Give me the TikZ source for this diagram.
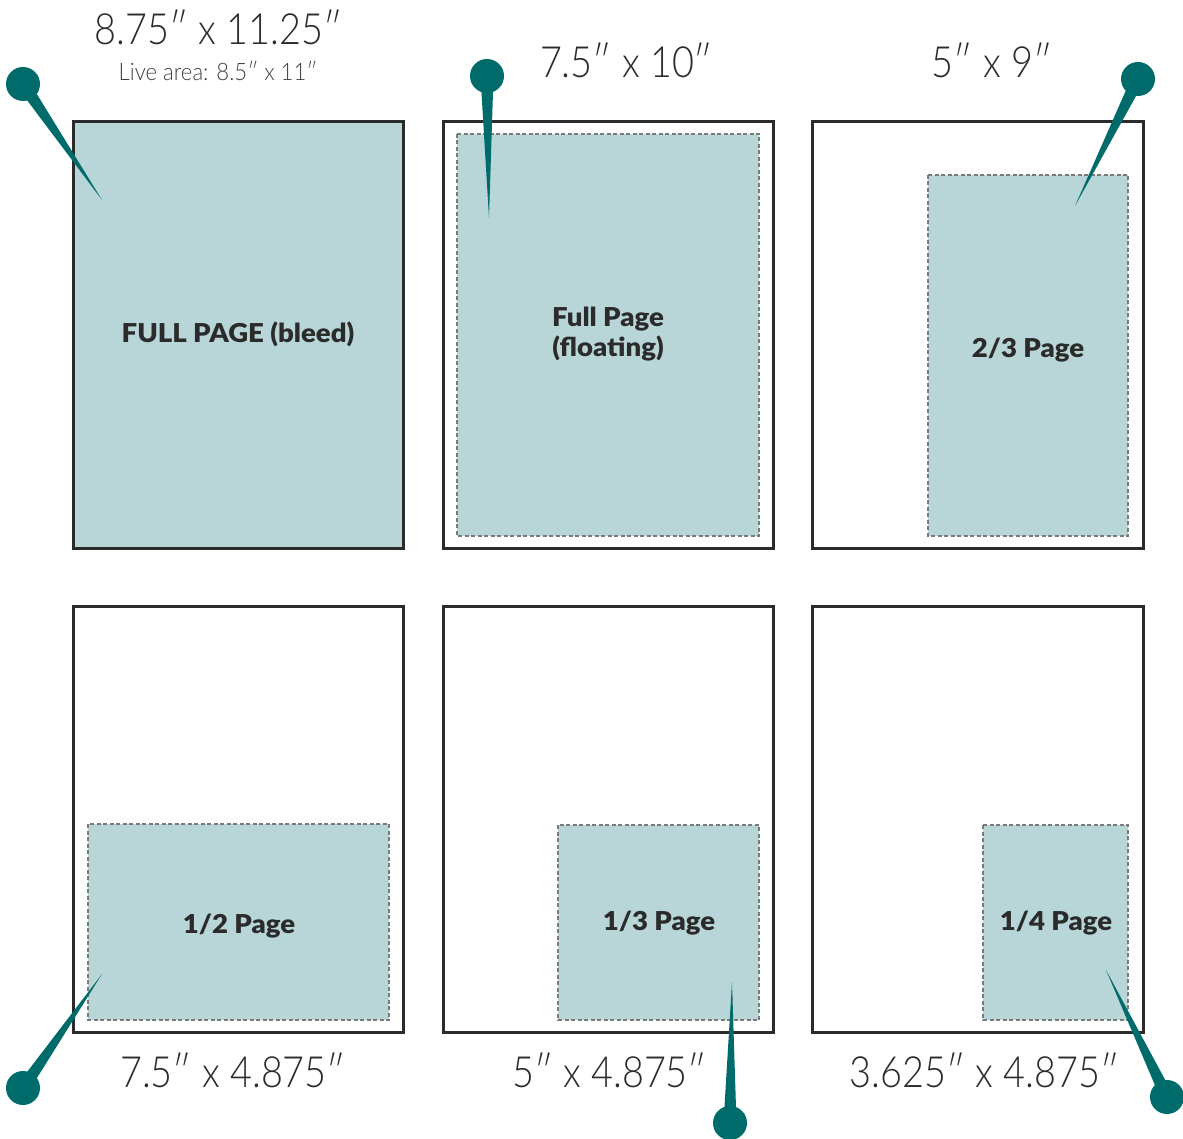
\documentclass[tikz,border=0pt]{standalone}
\usepackage{fontspec}
\setmainfont{Lato}
\newfontfamily\lightfont{Lato Light}[FakeStretch=0.88]
\newfontfamily\sublightfont{Lato Light}[FakeStretch=0.92]
\newfontfamily\labfont{Lato Black}[FakeStretch=1.06]
\usetikzlibrary{calc}
\definecolor{adfill}{HTML}{B8D6D8}
\definecolor{pincol}{HTML}{006B6B}
\definecolor{framecol}{HTML}{2B2B2B}
\definecolor{dashcol}{HTML}{7A7A7A}
\tikzset{
  pagebox/.style={draw=framecol, line width=3pt},
  adbox/.style={fill=adfill, draw=dashcol, line width=1.3pt, dash pattern=on 4pt off 2.5pt},
  sizetext/.style={font=\lightfont\fontsize{43}{48}\selectfont, text=framecol, anchor=base, inner sep=0pt},
  subtext/.style={font=\sublightfont\fontsize{24}{28}\selectfont, text=framecol!90, anchor=base, inner sep=0pt},
  adlabel/.style={font=\labfont\fontsize{26}{31}\selectfont, text=framecol, anchor=base, inner sep=0pt, align=center},
}
\begin{document}
\begin{tikzpicture}[x=1pt,y=-1pt]
\useasboundingbox (0,0) rectangle (1183,1139);
% pages
\draw[pagebox, fill=adfill] (73,122) rectangle (403,548);
\draw[pagebox] (443,122) rectangle (773,548);
\draw[pagebox] (812,122) rectangle (1143,548);
\draw[pagebox] (73,606) rectangle (403,1032);
\draw[pagebox] (443,606) rectangle (773,1032);
\draw[pagebox] (812,606) rectangle (1143,1032);
% ad areas
\draw[adbox] (457,134) rectangle (759,536);
\draw[adbox] (928,175) rectangle (1128,536);
\draw[adbox] (88,824) rectangle (389,1020);
\draw[adbox] (558,825) rectangle (759,1020);
\draw[adbox] (983,825) rectangle (1128,1020);
% labels
\node[adlabel] (l1) at (238,343) {FULL PAGE (bleed)};
\node[adlabel] (l2a) at (608,327) {Full Page};
\node[adlabel] (l2b) at (608,356) {(floating)};
\node[adlabel] (l3) at (1028,358) {2/3 Page};
\node[adlabel] (l4) at (239,933) {1/2 Page};
\node[adlabel] (l5) at (659,930) {1/3 Page};
\node[adlabel] (l6) at (1056,930) {1/4 Page};
% sizes
\node[sizetext] (s1) at (218.5,45) {8.75″ x 11.25″};
\node[subtext] (s1b) at (218,81) {Live area: 8.5″ x 11″};
\node[sizetext] (s2) at (626.5,78) {7.5″ x 10″};
\node[sizetext] (s3) at (992,78) {5″ x 9″};
\node[sizetext] (s4) at (233,1087) {7.5″ x 4.875″};
\node[sizetext] (s5) at (609.5,1087) {5″ x 4.875″};
\node[sizetext] (s6) at (984.5,1087) {3.625″ x 4.875″};
% pins
\foreach \bx/\by/\tx/\ty [count=\i] in {23/84/102/200, 487/76/489/218, 1138/79/1075/206, 23/1088/102/974, 730/1123/732/982, 1167/1097/1106/970}{
  \coordinate (b\i) at (\bx,\by);
  \coordinate (t\i) at (\tx,\ty);
  \fill[pincol] (t\i) -- ($(b\i)!6.5pt!90:(t\i)$) -- ($(b\i)!6.5pt!-90:(t\i)$) -- cycle;
  \fill[pincol] (b\i) circle (17pt);
}
\end{tikzpicture}
\end{document}
